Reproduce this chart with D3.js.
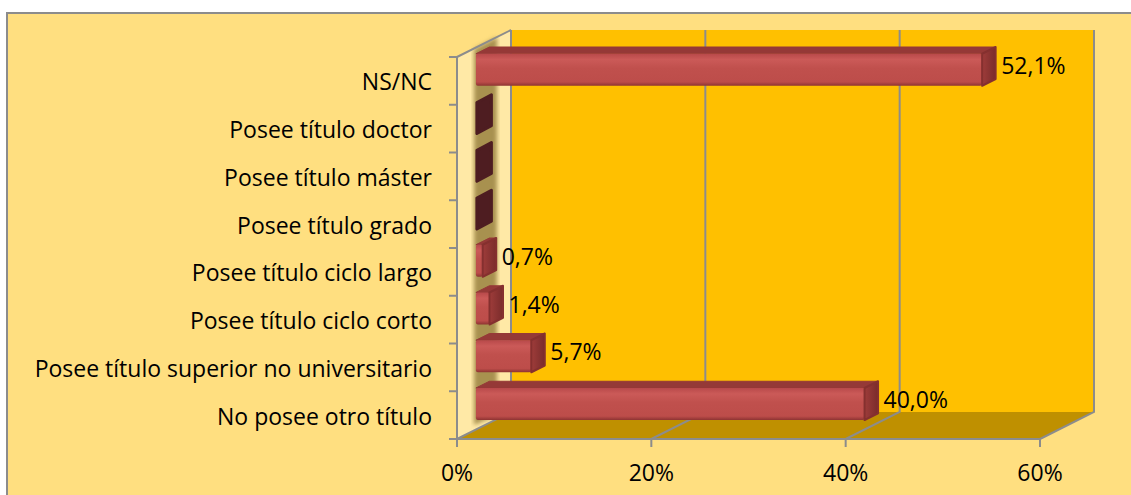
<!DOCTYPE html>
<html>
<head>
<meta charset="utf-8">
<script src="https://cdn.jsdelivr.net/npm/d3@7"></script>
<style>
  body { margin: 0; background: #ffffff; }
  text { font-family: "Open Sans", "Noto Sans", sans-serif; fill: #000; }
</style>
</head>
<body>
<svg id="chart" width="1131" height="495"></svg>
<script>
// data
const categories = [
  "NS/NC",
  "Posee título doctor",
  "Posee título máster",
  "Posee título grado",
  "Posee título ciclo largo",
  "Posee título ciclo corto",
  "Posee título superior no universitario",
  "No posee otro título"
];
const values = [52.1, 0, 0, 0, 0.7, 1.4, 5.7, 40.0];
const xTicks = [0, 20, 40, 60];

const svg = d3.select('#chart');

// chart frame
svg.append('rect')
  .attr('x', 7).attr('y', 13)
  .attr('width', 1200).attr('height', 600)
  .attr('fill', '#FFDF80')
  .attr('stroke', '#8C8C8C')
  .attr('stroke-width', 2);

// 3d projection: depth offset of the box
const DX = 54, DY = 27;
const barFront = 0.35, barBack = 0.6; // depth of bar faces (0 = front, 1 = back)
const pt = (x, y, d) => [x + DX * d, y - DY * d];

const x = d3.scaleLinear().domain([0, 60]).range([457, 1040]);
const y = d3.scaleBand().domain(categories).range([57, 439]);
const yTop = y.range()[0], yBot = y.range()[1];
const line = d3.line();

const defs = svg.append('defs');
const blur = defs.append('filter').attr('id', 'blur');
blur.append('feGaussianBlur').attr('stdDeviation', 2);

const gFront = defs.append('linearGradient').attr('id', 'barFront')
  .attr('x1', 0).attr('y1', 0).attr('x2', 0).attr('y2', 1);
gFront.append('stop').attr('offset', '0%').attr('stop-color', '#B8494A');
gFront.append('stop').attr('offset', '18%').attr('stop-color', '#CB5A58');
gFront.append('stop').attr('offset', '45%').attr('stop-color', '#C0504D');
gFront.append('stop').attr('offset', '88%').attr('stop-color', '#BD4D4A');
gFront.append('stop').attr('offset', '100%').attr('stop-color', '#8E3432');

const gSide = defs.append('linearGradient').attr('id', 'barSide')
  .attr('x1', 0).attr('y1', 0).attr('x2', 1).attr('y2', 0);
gSide.append('stop').attr('offset', '0%').attr('stop-color', '#9E3C3A');
gSide.append('stop').attr('offset', '100%').attr('stop-color', '#7A2C2B');

// side wall
svg.append('path')
  .attr('d', line([pt(x(0), yTop, 0), pt(x(0), yTop, 1), pt(x(0), yBot, 1), pt(x(0), yBot, 0)]) + 'Z')
  .attr('fill', '#FFE9A6');

// shadow strip on the side wall
svg.append('path')
  .attr('d', line([
    [x(0) + 17, yTop - 8], [x(0) + 40, yTop - 20],
    [x(0) + 40, yBot - 24], [x(0) + 17, yBot - 14]
  ]) + 'Z')
  .attr('fill', '#A8914F')
  .attr('filter', 'url(#blur)');

// back wall
svg.append('rect')
  .attr('x', pt(x(0), 0, 1)[0])
  .attr('y', pt(0, yTop, 1)[1])
  .attr('width', x(60) - x(0))
  .attr('height', yBot - yTop)
  .attr('fill', '#FFC000');

// floor
svg.append('path')
  .attr('d', line([pt(x(0), yBot, 0), pt(x(60), yBot, 0), pt(x(60), yBot, 1), pt(x(0), yBot, 1)]) + 'Z')
  .attr('fill', '#BF9000');

// gridlines on back wall and floor
const grid = svg.append('g')
  .attr('stroke', '#8C8C8C')
  .attr('stroke-width', 2)
  .attr('fill', 'none');
xTicks.forEach(t => {
  grid.append('path')
    .attr('d', line([pt(x(t), yBot, 0), pt(x(t), yBot, 1), pt(x(t), yTop, 1)]));
});
grid.append('path')
  .attr('d', line([pt(x(0), yTop, 0), pt(x(0), yTop, 1)]));

// bars
const bandH = y.bandwidth();
const pad = bandH * 0.13, barH = bandH * 0.67;
const bars = svg.append('g');
categories.forEach((c, i) => {
  const v = values[i];
  const x0 = pt(x(0), 0, barFront)[0];
  const x1 = pt(x(v), 0, barFront)[0];
  const top = y(c) - DY * barFront + pad;
  const dd = barBack - barFront;
  const ox = DX * dd, oy = DY * dd;
  const g = bars.append('g');
  if (v === 0) {
    // only the end cap is visible
    g.append('path')
      .attr('d', line([[x0 + 1, top + 1], [x0 + ox + 2, top - oy], [x0 + ox + 2, top + barH - oy - 1], [x0 + 1, top + barH]]) + 'Z')
      .attr('fill', '#4E1D21')
      .attr('stroke', '#4E1D21')
      .attr('stroke-width', 3)
      .attr('stroke-linejoin', 'round');
    return;
  }
  // top face
  g.append('path')
    .attr('d', line([[x0, top], [x1, top], [x1 + ox, top - oy], [x0 + ox, top - oy]]) + 'Z')
    .attr('fill', '#953937')
    .attr('stroke', '#953937')
    .attr('stroke-linejoin', 'round');
  // front face
  g.append('rect')
    .attr('x', x0).attr('y', top)
    .attr('width', x1 - x0).attr('height', barH)
    .attr('rx', 2)
    .attr('fill', 'url(#barFront)');
  // end face
  g.append('path')
    .attr('d', line([[x1, top], [x1 + ox, top - oy], [x1 + ox, top + barH - oy], [x1, top + barH]]) + 'Z')
    .attr('fill', 'url(#barSide)')
    .attr('stroke', '#85302F')
    .attr('stroke-width', 2)
    .attr('stroke-linejoin', 'round');
  // value label
  svg.append('text')
    .attr('x', x1 + 19)
    .attr('y', top + barH / 2 - 4)
    .attr('dy', '0.35em')
    .style('font-size', '23px')
    .text(d3.format('.1f')(v).replace('.', ',') + '%');
});

// front axes
const axis = svg.append('g')
  .attr('stroke', '#8C8C8C')
  .attr('stroke-width', 2)
  .attr('fill', 'none');
axis.append('path').attr('d', line([[x(0), yTop], [x(0), yBot], [x(60), yBot]]));
d3.range(categories.length + 1).forEach(k => {
  const yy = yTop + k * bandH;
  axis.append('path').attr('d', line([[x(0) - 8, yy], [x(0), yy]]));
});
xTicks.forEach(t => {
  axis.append('path').attr('d', line([[x(t), yBot], [x(t), yBot + 8]]));
});

// category labels
svg.append('g')
  .selectAll('text')
  .data(categories)
  .join('text')
    .attr('x', 432)
    .attr('y', d => y(d) + bandH / 2 + 1.5)
    .attr('dy', '0.35em')
    .attr('text-anchor', 'end')
    .style('font-size', '23px')
    .text(d => d);

// x tick labels
svg.append('g')
  .selectAll('text')
  .data(xTicks)
  .join('text')
    .attr('x', d => x(d))
    .attr('y', 481)
    .attr('text-anchor', 'middle')
    .style('font-size', '23px')
    .text(d => d + '%');
</script>
</body>
</html>
